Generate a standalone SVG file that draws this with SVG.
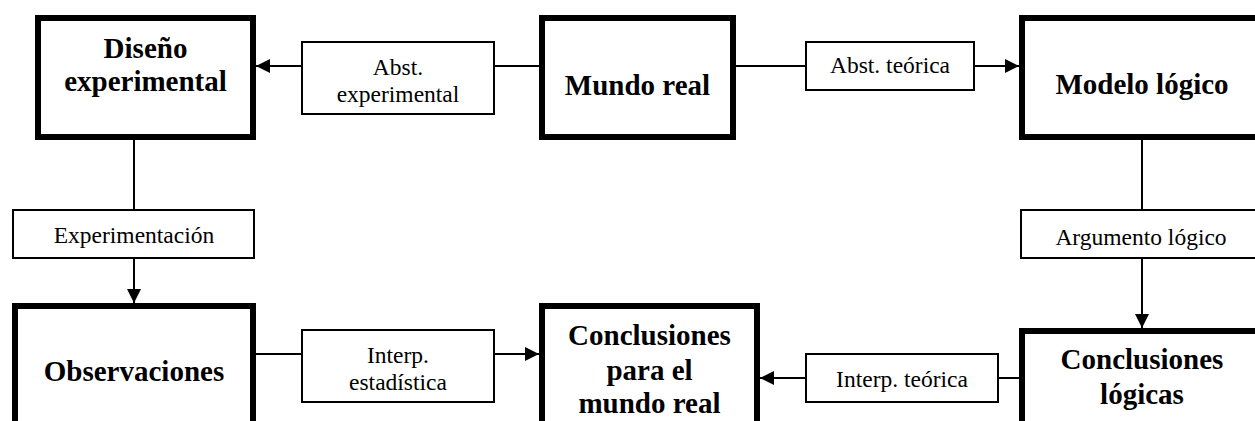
<svg xmlns="http://www.w3.org/2000/svg" width="1255" height="421" viewBox="0 0 1255 421">
<style>
.node{fill:#fff;stroke:#000;stroke-width:6}
.lbl{fill:#fff;stroke:#000;stroke-width:2}
.conn{stroke:#000;stroke-width:2;fill:none}
.bt{font-family:'Liberation Serif',Tinos,'Times New Roman',Times,serif;font-weight:bold;font-size:29px;text-anchor:middle;fill:#000}
.rt{font-family:'Liberation Serif',Tinos,'Times New Roman',Times,serif;font-size:23.5px;text-anchor:middle;fill:#000}
</style>
<defs>
<marker id="ah" markerWidth="14" markerHeight="14" refX="14" refY="7" orient="auto" markerUnits="userSpaceOnUse">
<path d="M0,0 L14,7 L0,14 z" fill="#000"/>
</marker>
</defs>
<rect width="1255" height="421" fill="#fff"/>
<g id="connectors">
<line class="conn" x1="302" y1="66" x2="256" y2="66" marker-end="url(#ah)"/>
<line class="conn" x1="494" y1="66" x2="539" y2="66"/>
<line class="conn" x1="736" y1="66" x2="806" y2="66"/>
<line class="conn" x1="974" y1="66" x2="1019" y2="66" marker-end="url(#ah)"/>
<line class="conn" x1="134" y1="140" x2="134" y2="210"/>
<line class="conn" x1="134" y1="258" x2="134" y2="303" marker-end="url(#ah)"/>
<line class="conn" x1="1142" y1="140" x2="1142" y2="210"/>
<line class="conn" x1="1142" y1="258" x2="1142" y2="328" marker-end="url(#ah)"/>
<line class="conn" x1="256" y1="354" x2="302" y2="354"/>
<line class="conn" x1="494" y1="354" x2="539" y2="354" marker-end="url(#ah)"/>
<line class="conn" x1="806" y1="378" x2="760" y2="378" marker-end="url(#ah)"/>
<line class="conn" x1="998" y1="378" x2="1019" y2="378"/>
</g>
<g id="diseno">
<rect class="node" x="38" y="18" width="215" height="119"/>
<text class="bt" x="145.5" y="58">Diseño</text>
<text class="bt" x="145.5" y="91">experimental</text>
</g>
<g id="mundo">
<rect class="node" x="542" y="18" width="191" height="119"/>
<text class="bt" x="637.5" y="95">Mundo real</text>
</g>
<g id="modelo">
<rect class="node" x="1022" y="18" width="260" height="119"/>
<text class="bt" x="1142" y="94">Modelo lógico</text>
</g>
<g id="observaciones">
<rect class="node" x="15" y="306" width="238" height="200"/>
<text class="bt" x="134" y="381">Observaciones</text>
</g>
<g id="concl-mundo">
<rect class="node" x="542" y="306" width="215" height="200"/>
<text class="bt" x="649.5" y="345">Conclusiones</text>
<text class="bt" x="649.5" y="380">para el</text>
<text class="bt" x="649.5" y="413">mundo real</text>
</g>
<g id="concl-logicas">
<rect class="node" x="1022" y="331" width="260" height="200"/>
<text class="bt" x="1142" y="369">Conclusiones</text>
<text class="bt" x="1142" y="404">lógicas</text>
</g>
<g id="abst-exp">
<rect class="lbl" x="302" y="42" width="192" height="72"/>
<text class="rt" x="398" y="75">Abst.</text>
<text class="rt" x="398" y="102">experimental</text>
</g>
<g id="abst-teo">
<rect class="lbl" x="806" y="42" width="168" height="48"/>
<text class="rt" x="890" y="73">Abst. teórica</text>
</g>
<g id="experimentacion">
<rect class="lbl" x="13" y="210" width="241" height="48"/>
<text class="rt" x="134" y="243">Experimentación</text>
</g>
<g id="argumento">
<rect class="lbl" x="1021" y="210" width="260" height="48"/>
<text class="rt" x="1141" y="245">Argumento lógico</text>
</g>
<g id="interp-est">
<rect class="lbl" x="302" y="330" width="192" height="72"/>
<text class="rt" x="398" y="363">Interp.</text>
<text class="rt" x="398" y="390">estadística</text>
</g>
<g id="interp-teo">
<rect class="lbl" x="806" y="354" width="192" height="48"/>
<text class="rt" x="902" y="387">Interp. teórica</text>
</g>
</svg>
